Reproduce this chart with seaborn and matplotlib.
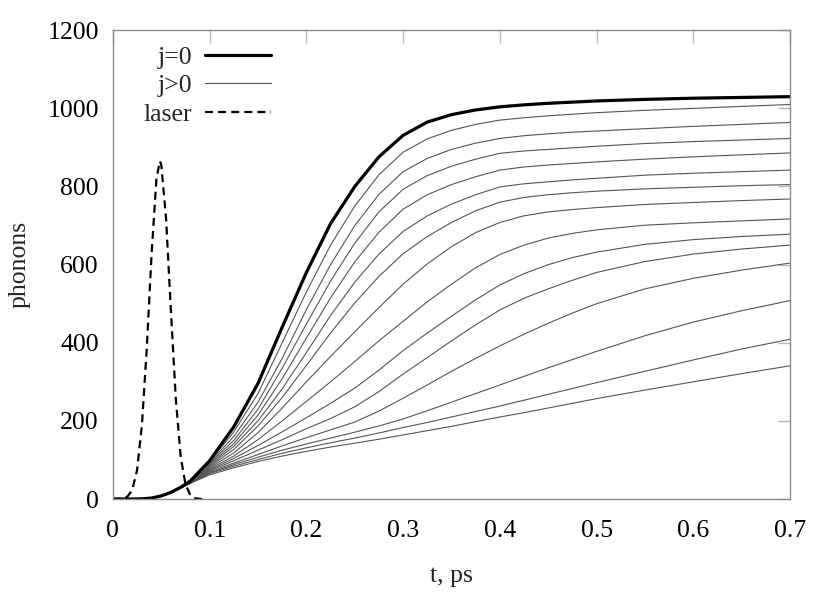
import pandas as pd
import seaborn as sns
import matplotlib
matplotlib.use("Agg")
import matplotlib.pyplot as plt
from matplotlib.lines import Line2D

# time grid, ps
t_ps = [0, 0.02, 0.03, 0.04, 0.05, 0.06, 0.07, 0.08, 0.1, 0.125, 0.15, 0.175,
        0.2, 0.225, 0.25, 0.275, 0.3, 0.325, 0.35, 0.375, 0.4, 0.425, 0.45,
        0.475, 0.5, 0.55, 0.6, 0.65, 0.7]

# j=0 mode
j0 = [0, 0, 0.5, 2.5, 8, 17, 30, 46, 98, 185, 296, 440,
      580, 705, 800, 876, 931, 965, 984, 996, 1004, 1009, 1013,
      1016, 1019, 1023, 1026, 1028, 1030]

# j>0 modes, top to bottom
j1 = [0, 0, 0.5, 2.5, 8, 17, 29, 45, 96, 172, 270, 400,
      530, 650, 750, 830, 888, 922, 944, 959, 970, 976, 981,
      985, 989, 995, 1000, 1005, 1010]
j2 = [0, 0, 0.5, 2.5, 8, 17, 29, 45, 94, 160, 248, 360,
      485, 600, 700, 780, 838, 872, 895, 911, 923, 930, 935,
      939, 942, 948, 954, 959, 964]
j3 = [0, 0, 0.5, 2.5, 8, 17, 29, 44, 92, 150, 230, 335,
      448, 558, 655, 735, 793, 828, 852, 870, 885, 891, 895,
      899, 903, 910, 915, 919, 923]
j4 = [0, 0, 0.5, 2.5, 8, 17, 29, 44, 89, 142, 215, 308,
      412, 515, 607, 683, 742, 779, 805, 825, 842, 850, 855,
      859, 863, 870, 876, 881, 886]
j5 = [0, 0, 0.5, 2.5, 8, 17, 29, 43, 86, 135, 200, 282,
      375, 470, 555, 627, 685, 725, 755, 779, 799, 807, 812,
      817, 821, 829, 834, 838, 842]
j6 = [0, 0, 0.5, 2.5, 8, 17, 29, 43, 83, 127, 187, 260,
      342, 425, 502, 570, 628, 672, 708, 738, 760, 772, 779,
      784, 788, 794, 798, 802, 805]
j7 = [0, 0, 0.5, 2.5, 8, 17, 29, 42, 80, 118, 170, 233,
      300, 365, 428, 490, 550, 602, 646, 682, 708, 725, 735,
      741, 746, 754, 759, 764, 768]
j8 = [0, 0, 0.5, 2.5, 8, 16, 28, 42, 77, 110, 152, 200,
      250, 300, 352, 405, 455, 505, 550, 592, 626, 650, 668,
      680, 689, 701, 707, 712, 717]
j9 = [0, 0, 0.5, 2.5, 8, 16, 28, 41, 74, 104, 137, 172,
      208, 245, 284, 330, 380, 425, 468, 510, 548, 577, 600,
      618, 632, 652, 664, 672, 678]
j10 = [0, 0, 0.5, 2.5, 8, 16, 28, 41, 72, 98, 125, 152,
       180, 206, 236, 275, 320, 362, 405, 446, 484, 514, 538,
       560, 580, 608, 627, 640, 650]
j11 = [0, 0, 0.5, 2.5, 8, 16, 28, 41, 69, 92, 114, 136,
       157, 177, 197, 225, 258, 292, 327, 360, 392, 422, 450,
       476, 500, 538, 565, 586, 604]
j12 = [0, 0, 0.5, 2.5, 8, 16, 28, 40, 67, 88, 107, 125,
       141, 156, 171, 187, 205, 226, 248, 270, 292, 314, 336,
       357, 378, 418, 453, 482, 508]
j13 = [0, 0, 0.5, 2.5, 8, 16, 28, 40, 65, 84, 101, 117,
       131, 144, 156, 169, 183, 196, 210, 224, 238, 253, 268,
       283, 298, 327, 356, 384, 409]
j14 = [0, 0, 0.5, 2.5, 8, 16, 28, 40, 62, 80, 96, 110,
       122, 133, 143, 153, 164, 175, 186, 198, 210, 221, 233,
       245, 257, 279, 300, 321, 341]

# laser pulse (arb. scaled)
laser_t = [0, 0.01, 0.015, 0.02, 0.025, 0.03, 0.035, 0.04, 0.045, 0.0485, 0.05,
           0.055, 0.06, 0.065, 0.07, 0.075, 0.08, 0.085, 0.09, 0.095]
laser = [0, 1, 6, 23, 74, 189, 384, 627, 819, 865, 856,
         717, 480, 258, 110, 38, 10, 2, 0.4, 0]

sns.set_theme(style="white")
plt.rcParams['font.family'] = ['Liberation Serif', 'DejaVu Serif']

thin = [j1, j2, j3, j4, j5, j6, j7, j8, j9, j10, j11, j12, j13, j14]
df_thin = pd.concat([pd.DataFrame({'t': t_ps, 'n': vals, 'j': i + 1})
                     for i, vals in enumerate(thin)], axis=0)
df_j0 = pd.DataFrame({'t': t_ps, 'n': j0})
df_laser = pd.DataFrame({'t': laser_t, 'n': laser})

fig, ax = plt.subplots(figsize=(8.3, 5.93), dpi=100)
fig.subplots_adjust(left=0.136, right=0.952, bottom=0.1585, top=0.949)

thin_col = '#555555'
sns.lineplot(data=df_thin, x='t', y='n', units='j', estimator=None,
             color=thin_col, lw=0.8, ax=ax)
sns.lineplot(data=df_j0, x='t', y='n', color='black', lw=2.3, ax=ax)
sns.lineplot(data=df_laser, x='t', y='n', color='black', lw=1.6, ax=ax)
ax.lines[-1].set_dashes((3.6, 2.3))

fs = 18.5
ax.set_xlim(0, 0.7)
ax.set_ylim(0, 1200)
ax.set_xticks([0, 0.1, 0.2, 0.3, 0.4, 0.5, 0.6, 0.7])
ax.set_xticklabels(['0', '0.1', '0.2', '0.3', '0.4', '0.5', '0.6', '0.7'])
ax.set_yticks(range(0, 1201, 200))
ax.tick_params(direction='in', length=9, width=1, color='#b8b8b8',
               top=True, right=True, labelsize=fs, pad=10, labelcolor='black')
ax.tick_params(axis='x', pad=15)
for sp in ax.spines.values():
    sp.set_color('#8c8c8c')
    sp.set_linewidth(1)
ax.set_xlabel('t, ps', fontsize=fs, labelpad=17)
ax.set_ylabel('phonons', fontsize=fs, labelpad=12)

# gnuplot-style key: labels right-aligned, samples on the right
handles = [Line2D([], [], color='black', lw=2.3),
           Line2D([], [], color=thin_col, lw=0.8),
           Line2D([], [], color='black', lw=1.6, dashes=(3.6, 2.3))]
ax.legend(handles, ['j=0', 'j>0', 'laser'], loc='upper left',
          bbox_to_anchor=(0.038, 0.978), borderaxespad=0, frameon=False,
          fontsize=fs, markerfirst=False, handlelength=2.55,
          handletextpad=0.5, labelspacing=0.22, borderpad=0.2)

fig.savefig('out.png', dpi=100)
